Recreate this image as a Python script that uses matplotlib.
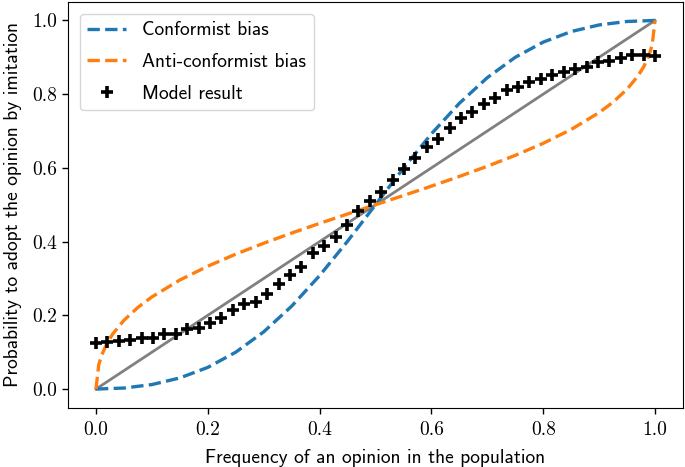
import numpy as np
import matplotlib
matplotlib.use("Agg")
import matplotlib.pyplot as plt

# frequency grid of the theoretical curves
freq_conf = [0.0, 0.05, 0.1, 0.15, 0.2, 0.25, 0.3, 0.35, 0.4, 0.45, 0.5,
             0.55, 0.6, 0.65, 0.7, 0.75, 0.8, 0.85, 0.9, 0.95, 1.0]
conformist = [0.0, 0.0028, 0.0122, 0.0302, 0.0588, 0.1, 0.1552, 0.2248, 0.3077,
              0.401, 0.5, 0.599, 0.6923, 0.7752, 0.8448, 0.9, 0.9412, 0.9698,
              0.9878, 0.9972, 1.0]

freq_anti = [0.0, 0.005, 0.01, 0.02, 0.03, 0.05, 0.075, 0.1, 0.15, 0.2, 0.25,
             0.3, 0.35, 0.4, 0.45, 0.5, 0.55, 0.6, 0.65, 0.7, 0.75, 0.8, 0.85,
             0.9, 0.925, 0.95, 0.97, 0.98, 0.99, 0.995, 1.0]
anti_conformist = [0.0, 0.0662, 0.0913, 0.125, 0.1496, 0.1866, 0.2216, 0.25,
                   0.2958, 0.3333, 0.366, 0.3956, 0.4232, 0.4495, 0.4749, 0.5,
                   0.5251, 0.5505, 0.5768, 0.6044, 0.634, 0.6667, 0.7042, 0.75,
                   0.7784, 0.8134, 0.8504, 0.875, 0.9087, 0.9338, 1.0]

# model output, 50 frequencies between 0 and 1
freq_model = np.linspace(0, 1, 50)
model = [0.124, 0.127, 0.131, 0.132, 0.138, 0.139, 0.149, 0.150, 0.163, 0.165,
         0.178, 0.193, 0.215, 0.232, 0.236, 0.259, 0.286, 0.309, 0.332, 0.370,
         0.387, 0.412, 0.444, 0.482, 0.510, 0.535, 0.566, 0.598, 0.628, 0.657,
         0.679, 0.709, 0.734, 0.751, 0.774, 0.790, 0.810, 0.819, 0.833, 0.840,
         0.851, 0.860, 0.869, 0.875, 0.887, 0.890, 0.897, 0.905, 0.905, 0.903]

ticks = [0.0, 0.2, 0.4, 0.6, 0.8, 1.0]
tick_labels = ["0.0", "0.2", "0.4", "0.6", "0.8", "1.0"]

SANS = "cmss10"
SERIF = "cmr10"
FS = 14

fig = plt.figure(figsize=(6.85, 4.67), dpi=100)
ax = fig.add_axes([0.0993, 0.1274, 0.8977, 0.8683])

ax.plot([0, 1], [0, 1], color="grey", lw=2)
ax.plot(freq_conf, conformist, "--", color="#1f77b4", lw=2.4,
        label="Conformist bias")
ax.plot(freq_anti, anti_conformist, "--", color="#ff7f0e", lw=2.4,
        label="Anti-conformist bias")
ax.plot(freq_model, model, "+", color="black", ms=9, mew=2.6,
        label="Model result")

ax.set_xlim(-0.05, 1.05)
ax.set_ylim(-0.05, 1.05)
ax.set_xticks(ticks)
ax.set_xticklabels(tick_labels, family=SERIF, fontsize=FS)
ax.set_yticks(ticks)
ax.set_yticklabels(tick_labels, family=SERIF, fontsize=FS)
ax.tick_params(axis="x", width=1, length=4, pad=6)
ax.tick_params(axis="y", width=1, length=4, pad=4)

ax.set_xlabel("Frequency of an opinion in the population", family=SANS,
              fontsize=FS, labelpad=7)
ax.set_ylabel("Probability to adopt the opinion by imitation", family=SANS,
              fontsize=FS, labelpad=7)

ax.legend(loc="upper left", prop={"family": SANS, "size": FS},
          borderaxespad=0.6, labelspacing=0.7)

fig.savefig("out.png", dpi=100)
